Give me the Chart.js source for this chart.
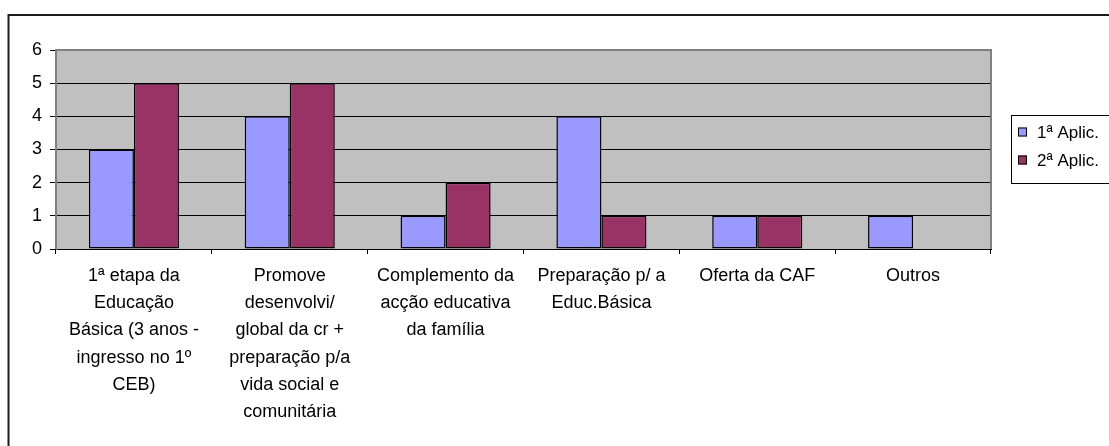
<!DOCTYPE html>
<html>
<head>
<meta charset="utf-8">
<script src="https://cdn.jsdelivr.net/npm/chart.js@4/dist/chart.umd.min.js"></script>
<style>
    html, body { margin: 0; padding: 0; background: #fff; }
    #wrap { position: relative; width: 1109px; height: 446px; }
</style>
</head>
<body>
<div id="wrap"><canvas id="chart" width="1109" height="446"></canvas></div>
<script>
// categories (already wrapped as in the original)
const categories = [
    ['1ª etapa da', 'Educação', 'Básica (3 anos -', 'ingresso no 1º', 'CEB)'],
    ['Promove', 'desenvolvi/', 'global da cr +', 'preparação p/a', 'vida social e', 'comunitária'],
    ['Complemento da', 'acção educativa', 'da família'],
    ['Preparação p/ a', 'Educ.Básica'],
    ['Oferta da CAF'],
    ['Outros']
];
const seriesNames = ['1ª Aplic.', '2ª Aplic.'];
const aplic1 = [3, 4, 1, 4, 1, 1];
const aplic2 = [5, 5, 2, 1, 1, 0];
const yTicks = [0, 1, 2, 3, 4, 5, 6];

const colors = ['#9999FF', '#993366'];
const FONT = "'Liberation Sans', Arial, sans-serif";

Chart.defaults.font.family = FONT;
Chart.defaults.color = '#000';

// grey plot area + frame + legend box
const excelLook = {
    id: 'excelLook',
    beforeDraw(chart) {
        const { ctx, chartArea: a } = chart;
        ctx.save();
        ctx.fillStyle = '#C0C0C0';
        ctx.fillRect(a.left, a.top, a.right - a.left, a.bottom - a.top);
        ctx.restore();
    },
    beforeDatasetsDraw(chart) {
        const { ctx, chartArea: a } = chart;
        ctx.save();
        ctx.strokeStyle = '#808080';
        ctx.lineWidth = 2;
        ctx.beginPath();
        ctx.moveTo(a.left, a.bottom);
        ctx.lineTo(a.left, a.top);
        ctx.lineTo(a.right, a.top);
        ctx.lineTo(a.right, a.bottom);
        ctx.stroke();
        ctx.restore();
    },
    afterDraw(chart) {
        const { ctx } = chart;
        ctx.save();
        // outer chart frame (right and bottom edges fall outside the picture)
        ctx.strokeStyle = '#1a1a1a';
        ctx.lineWidth = 2;
        ctx.beginPath();
        ctx.moveTo(8.5, 446);
        ctx.lineTo(8.5, 15);
        ctx.lineTo(1109, 15);
        ctx.stroke();

        // legend
        ctx.fillStyle = '#fff';
        ctx.fillRect(1011, 115, 120, 68);
        ctx.strokeStyle = '#000';
        ctx.lineWidth = 1;
        ctx.strokeRect(1011.5, 115.5, 120, 68);
        ctx.font = '17px ' + FONT;
        ctx.textBaseline = 'middle';
        seriesNames.forEach((name, i) => {
            const cy = 132 + i * 28;
            ctx.fillStyle = colors[i];
            ctx.fillRect(1018, cy - 4.5, 9, 9);
            ctx.strokeStyle = '#000';
            ctx.strokeRect(1018.5, cy - 4, 8, 8);
            ctx.fillStyle = '#000';
            ctx.fillText(name, 1037, cy + 1);
        });
        ctx.restore();
    }
};

new Chart(document.getElementById('chart'), {
    type: 'bar',
    data: {
        labels: categories,
        datasets: [
            {
                label: seriesNames[0],
                data: aplic1,
                backgroundColor: colors[0],
                borderColor: '#000',
                borderWidth: 1.5,
                borderSkipped: false,
                barPercentage: 1,
                categoryPercentage: 0.578
            },
            {
                label: seriesNames[1],
                data: aplic2,
                backgroundColor: colors[1],
                borderColor: '#000',
                borderWidth: 1.5,
                borderSkipped: false,
                barPercentage: 1,
                categoryPercentage: 0.578
            }
        ]
    },
    options: {
        responsive: false,
        animation: false,
        layout: { padding: { top: 50, right: 118, bottom: 0, left: 0 } },
        plugins: {
            legend: { display: false },
            tooltip: { enabled: false }
        },
        scales: {
            x: {
                offset: true,
                grid: {
                    offset: true,
                    drawOnChartArea: false,
                    drawTicks: true,
                    tickLength: 5,
                    color: '#000'
                },
                border: { display: true, color: '#000', width: 1 },
                ticks: {
                    autoSkip: false,
                    maxRotation: 0,
                    minRotation: 0,
                    color: '#000',
                    padding: 8,
                    font: { size: 18, lineHeight: 1.52 }
                },
                afterFit: scale => { scale.height = 197; }
            },
            y: {
                min: 0,
                max: 6,
                afterBuildTicks: scale => {
                    scale.ticks = yTicks.map(v => ({ value: v }));
                },
                grid: {
                    color: '#000',
                    drawTicks: true,
                    tickLength: 6,
                    tickColor: '#000'
                },
                border: { display: true, color: '#808080', width: 1 },
                ticks: {
                    color: '#000',
                    padding: 8,
                    font: { size: 18 }
                },
                afterFit: scale => { scale.width = 56; }
            }
        }
    },
    plugins: [excelLook]
});
</script>
</body>
</html>
